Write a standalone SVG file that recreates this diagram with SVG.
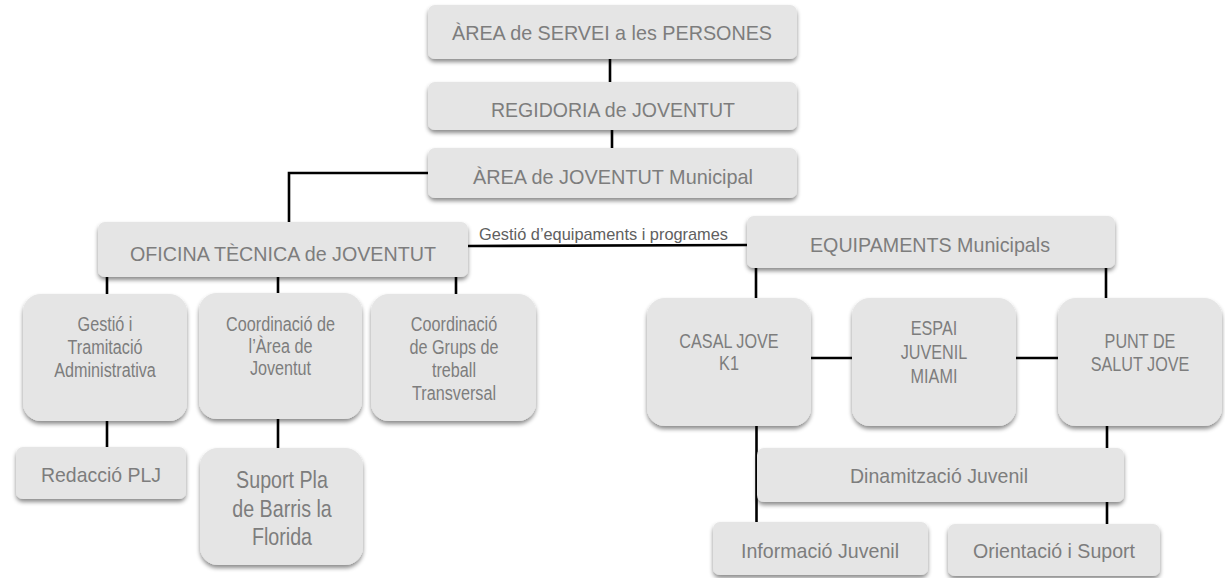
<svg xmlns="http://www.w3.org/2000/svg" width="1225" height="578" viewBox="0 0 1225 578">
<defs>
<filter id="sh" x="-10%" y="-10%" width="120%" height="130%">
<feDropShadow dx="0" dy="3" stdDeviation="2" flood-color="#000" flood-opacity="0.45"/>
</filter>
</defs>
<style>
.box{fill:#e5e5e5;filter:url(#sh)}
.t{font-family:"Liberation Sans",Arial,sans-serif;font-size:21px;fill:#7d7d7d;text-anchor:middle}
.n{font-family:"Liberation Sans",Arial,sans-serif;font-size:20px;fill:#7d7d7d;text-anchor:middle}
.lbl{font-family:"Liberation Sans",Arial,sans-serif;font-size:17px;fill:#606060}
.c{stroke:#000;stroke-width:2.6;fill:none}
</style>
<g id="connectors">
<line class="c" x1="610" y1="59" x2="610" y2="82"/>
<line class="c" x1="612" y1="130" x2="612" y2="148"/>
<polyline class="c" points="428,173 289,173 289,222"/>
<line class="c" x1="468" y1="246" x2="747" y2="245"/>
<line class="c" x1="107" y1="277" x2="107" y2="294"/>
<line class="c" x1="278" y1="277" x2="278" y2="293"/>
<line class="c" x1="456" y1="277" x2="456" y2="294"/>
<line class="c" x1="107" y1="421" x2="107" y2="447"/>
<line class="c" x1="278" y1="419" x2="278" y2="448"/>
<line class="c" x1="756" y1="268" x2="756" y2="298"/>
<line class="c" x1="1106" y1="268" x2="1106" y2="298"/>
<line class="c" x1="811" y1="358" x2="852" y2="358"/>
<line class="c" x1="1016" y1="358" x2="1058" y2="358"/>
<line class="c" x1="756.5" y1="426" x2="756.5" y2="522"/>
<line class="c" x1="1107" y1="426" x2="1107" y2="524"/>
</g>
<text class="lbl" x="479" y="240" textLength="249" lengthAdjust="spacingAndGlyphs">Gestió d’equipaments i programes</text>
<g id="n-area-servei">
<rect class="box" x="428" y="5" width="369" height="54" rx="7"/>
<text class="t" x="612" y="40" textLength="320" lengthAdjust="spacingAndGlyphs">ÀREA de SERVEI a les PERSONES</text>
</g>
<g id="n-regidoria">
<rect class="box" x="428" y="82" width="369" height="48" rx="7"/>
<text class="t" x="613" y="117" textLength="244" lengthAdjust="spacingAndGlyphs">REGIDORIA de JOVENTUT</text>
</g>
<g id="n-area-joventut">
<rect class="box" x="428" y="148" width="369" height="50" rx="7"/>
<text class="t" x="613" y="184" textLength="280" lengthAdjust="spacingAndGlyphs">ÀREA de JOVENTUT Municipal</text>
</g>
<g id="n-oficina">
<rect class="box" x="98" y="222" width="370" height="55" rx="7"/>
<text class="t" x="283" y="261" textLength="306" lengthAdjust="spacingAndGlyphs">OFICINA TÈCNICA de JOVENTUT</text>
</g>
<g id="n-gestio">
<rect class="box" x="23" y="294" width="164" height="127" rx="18"/>
<text class="n" transform="translate(105 0) scale(0.81 1)"><tspan x="0" y="331">Gestió i</tspan><tspan x="0" y="354">Tramitació</tspan><tspan x="0" y="377">Administrativa</tspan></text>
</g>
<g id="n-coord-area">
<rect class="box" x="199" y="293" width="163" height="126" rx="18"/>
<text class="n" transform="translate(280.5 0) scale(0.81 1)"><tspan x="0" y="331">Coordinació de</tspan><tspan x="0" y="353">l’Àrea de</tspan><tspan x="0" y="375">Joventut</tspan></text>
</g>
<g id="n-coord-grups">
<rect class="box" x="371" y="294" width="165" height="127" rx="18"/>
<text class="n" transform="translate(454 0) scale(0.81 1)"><tspan x="0" y="331">Coordinació</tspan><tspan x="0" y="354">de Grups de</tspan><tspan x="0" y="377">treball</tspan><tspan x="0" y="400">Transversal</tspan></text>
</g>
<g id="n-redaccio">
<rect class="box" x="16" y="447" width="170" height="52" rx="7"/>
<text class="t" x="101" y="482" textLength="120" lengthAdjust="spacingAndGlyphs">Redacció PLJ</text>
</g>
<g id="n-suport">
<rect class="box" x="200" y="448" width="163" height="117" rx="18"/>
<text class="n" style="font-size:24px" transform="translate(282 0) scale(0.82 1)"><tspan x="0" y="488">Suport Pla</tspan><tspan x="0" y="517">de Barris la</tspan><tspan x="0" y="545">Florida</tspan></text>
</g>
<g id="n-equipaments">
<rect class="box" x="747" y="216" width="368" height="52" rx="7"/>
<text class="t" x="930" y="252" textLength="240" lengthAdjust="spacingAndGlyphs">EQUIPAMENTS Municipals</text>
</g>
<g id="n-casal">
<rect class="box" x="647" y="298" width="164" height="128" rx="18"/>
<text class="n" transform="translate(729 0) scale(0.81 1)"><tspan x="0" y="348">CASAL JOVE</tspan><tspan x="0" y="370">K1</tspan></text>
</g>
<g id="n-espai">
<rect class="box" x="852" y="298" width="164" height="128" rx="18"/>
<text class="n" transform="translate(934 0) scale(0.81 1)"><tspan x="0" y="335">ESPAI</tspan><tspan x="0" y="359">JUVENIL</tspan><tspan x="0" y="383">MIAMI</tspan></text>
</g>
<g id="n-punt">
<rect class="box" x="1058" y="298" width="164" height="128" rx="18"/>
<text class="n" transform="translate(1140 0) scale(0.81 1)"><tspan x="0" y="348">PUNT DE</tspan><tspan x="0" y="371">SALUT JOVE</tspan></text>
</g>
<g id="n-dinamitzacio">
<rect class="box" x="757" y="448" width="367" height="54" rx="7"/>
<text class="t" x="939" y="483" textLength="178" lengthAdjust="spacingAndGlyphs">Dinamització Juvenil</text>
</g>
<g id="n-informacio">
<rect class="box" x="713" y="522" width="215" height="53" rx="7"/>
<text class="t" x="820" y="558" textLength="158" lengthAdjust="spacingAndGlyphs">Informació Juvenil</text>
</g>
<g id="n-orientacio">
<rect class="box" x="948" y="524" width="212" height="52" rx="7"/>
<text class="t" x="1054" y="558" textLength="162" lengthAdjust="spacingAndGlyphs">Orientació i Suport</text>
</g>
</svg>
